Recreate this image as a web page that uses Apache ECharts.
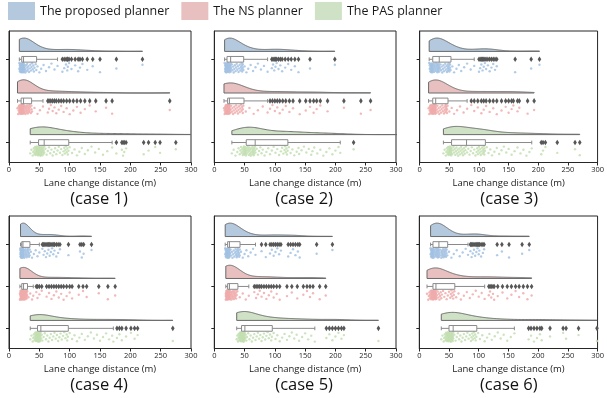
<!DOCTYPE html>
<html>
<head>
<meta charset="utf-8">
<script src="https://cdn.jsdelivr.net/npm/echarts@6/dist/echarts.min.js"></script>
<style>
  html, body { margin: 0; padding: 0; background: #fff; }
  #chart { width: 607px; height: 398px; }
</style>
</head>
<body>
<div id="chart"></div>
<script>
// Lane change distances (m) recorded for each planner in six test cases.
const planners = ['The proposed planner', 'The NS planner', 'The PAS planner'];
const caseTitles = ['(case 1)', '(case 2)', '(case 3)', '(case 4)', '(case 5)', '(case 6)'];
const distanceTicks = [0, 50, 100, 150, 200, 250, 300];
const axisTitle = 'Lane change distance (m)';

const case1Proposed = [17,17,18,18,18,18,19,19,19,19,19,19,20,20,20,20,20,20,20,21,21,21,21,21,21,
  21,21,22,22,22,22,22,22,22,23,23,23,23,23,23,23,23,24,24,24,24,24,24,24,24,
  24,25,25,26,26,27,27,28,29,30,30,31,32,33,34,35,36,37,38,39,40,41,42,44,45,
  47,50,53,57,61,66,70,75,80,88,91,94,96,97,99,103,109,114,117,121,129,138,150,177,220];
const case1NS = [14,15,16,16,17,17,17,18,18,18,18,18,19,19,19,19,19,19,19,20,20,20,20,20,20,
  20,20,21,21,21,21,21,22,22,22,22,22,22,23,23,23,23,23,23,23,24,24,24,24,24,
  24,25,25,26,26,27,27,28,28,29,29,30,30,31,31,32,32,33,33,34,34,35,36,37,37,
  38,42,47,51,56,64,66,69,72,75,78,82,86,90,95,100,106,112,118,125,133,143,160,170,265];
const case1PAS = [35,37,39,40,41,42,42,43,43,44,44,45,45,45,46,46,46,47,47,47,47,48,48,48,48,
  49,49,49,50,50,50,51,51,51,52,52,52,53,53,53,54,54,54,55,55,56,56,57,57,58,
  58,60,62,64,66,68,70,72,74,76,78,80,82,84,86,88,90,91,92,93,94,95,96,97,98,
  100,104,108,112,116,120,125,130,136,142,148,155,162,170,177,186,188,190,193,222,230,241,249,275,320];

const case2Proposed = [17,18,18,18,19,19,19,19,19,19,19,20,20,20,20,20,20,20,20,20,20,20,20,20,21,
  21,21,21,22,22,22,22,23,23,23,23,24,24,24,24,25,25,25,25,26,26,26,27,27,27,
  27,28,29,30,31,32,33,34,35,36,37,38,39,40,41,42,43,44,45,45,46,46,47,47,48,
  50,53,56,60,64,68,72,77,82,88,95,97,99,101,103,106,109,112,117,122,127,133,139,158,199];
const case2NS = [16,17,17,18,18,18,19,19,19,19,20,20,20,20,20,21,21,21,21,21,21,21,21,22,22,
  22,22,22,22,23,23,23,23,23,23,23,24,24,24,24,24,24,24,24,25,25,25,25,25,25,
  25,26,27,28,29,30,31,32,33,34,35,36,37,38,39,40,41,42,43,44,45,46,47,47,48,
  52,58,65,72,80,88,92,96,100,104,108,113,118,124,130,141,151,158,164,169,175,187,214,242,258];
const case2PAS = [29,32,35,38,40,42,43,44,45,46,47,47,48,48,49,49,50,50,50,51,51,51,52,52,52,
  53,53,54,55,55,56,57,57,58,59,59,60,61,61,62,63,63,64,64,65,65,66,66,67,67,
  68,70,72,74,76,78,80,83,86,89,92,95,98,101,104,107,110,112,114,116,117,118,119,120,121,
  123,126,129,132,136,139,140,144,148,152,156,160,162,165,170,175,180,185,190,195,200,205,208,230,325];

const case3Proposed = [16,17,17,18,18,18,19,19,19,19,20,20,20,20,20,20,21,21,21,21,21,21,22,22,22,
  22,23,23,24,24,25,25,26,26,27,27,28,28,29,29,30,30,30,31,31,31,32,32,33,33,
  33,34,35,36,37,38,39,40,41,42,43,44,45,46,47,47,48,48,49,49,50,50,51,51,52,
  55,58,62,66,70,75,80,86,92,100,102,104,106,108,110,112,115,118,121,124,127,130,161,188,202];
const case3NS = [15,16,17,17,18,18,18,19,19,19,19,20,20,20,20,20,21,21,21,21,21,21,22,22,22,
  22,22,23,23,23,23,24,24,24,24,24,25,25,25,25,25,25,26,26,26,26,26,26,27,27,
  27,28,29,30,31,32,33,34,35,36,37,38,39,40,41,42,43,43,44,44,45,45,46,46,47,
  50,54,58,63,68,74,80,87,92,98,104,108,112,118,124,130,138,145,150,155,158,165,168,182,193];
const case3PAS = [40,42,44,45,46,47,47,48,48,49,49,50,50,50,51,51,51,52,52,52,52,53,53,53,53,
  54,55,56,57,58,59,60,61,62,63,64,65,66,67,68,69,70,71,72,73,74,75,76,77,78,
  80,82,84,86,88,90,92,94,96,97,98,99,100,101,102,103,104,105,106,107,108,108,109,109,110,
  113,116,119,122,126,130,134,138,142,146,150,155,160,165,170,175,180,185,189,205,208,212,232,262,270];

const case4Proposed = [19,19,19,19,19,19,20,20,20,20,20,20,20,20,20,20,20,21,21,21,21,21,21,21,21,
  21,21,21,21,21,22,22,22,22,22,22,22,22,22,22,22,22,22,23,23,23,23,23,23,23,
  23,23,24,24,24,25,25,26,26,27,27,28,28,29,29,30,30,31,31,32,32,33,33,34,34,
  36,38,41,44,47,50,55,57,59,61,63,65,67,69,71,73,75,78,81,84,98,117,120,123,136];
const case4NS = [18,18,19,19,19,19,19,20,20,20,20,20,20,20,20,21,21,21,21,21,21,21,21,21,21,
  21,21,22,22,22,22,22,22,22,22,23,23,23,23,23,23,23,23,23,24,24,24,24,24,24,
  24,24,24,25,25,25,25,26,26,26,26,27,27,27,27,28,28,28,28,29,29,29,29,30,30,
  32,35,38,40,45,47,50,54,62,66,70,74,78,82,86,90,95,100,104,115,122,128,148,163,175];
const case4PAS = [35,37,39,40,41,42,42,43,43,44,44,44,45,45,45,45,46,46,46,46,46,47,47,47,47,
  47,47,47,48,48,48,48,48,49,49,49,49,49,50,50,50,50,50,51,51,51,51,52,52,52,
  53,54,55,57,59,61,63,65,67,69,71,73,75,77,79,81,83,85,87,89,91,93,95,96,97,
  100,104,108,112,116,120,125,130,135,140,145,150,155,160,165,170,172,178,182,186,193,201,207,212,270];

const case5Proposed = [18,18,19,19,19,19,20,20,20,20,20,20,21,21,21,21,21,21,21,21,22,22,22,22,22,
  22,22,22,22,23,23,23,23,23,23,23,24,24,24,24,24,24,24,25,25,25,25,25,25,25,
  25,26,27,28,29,30,31,32,33,34,35,36,36,37,37,38,38,39,39,40,40,41,41,42,42,
  44,47,50,53,56,60,64,68,78,85,92,95,98,101,104,107,110,122,126,130,134,138,141,169,195];
const case5NS = [19,19,19,20,20,20,20,20,20,21,21,21,21,21,21,21,21,22,22,22,22,22,22,22,22,
  22,22,22,23,23,23,23,23,23,23,24,24,24,24,24,24,24,24,25,25,25,25,25,25,25,
  25,26,26,27,27,28,28,29,29,30,30,31,31,32,32,33,33,34,34,35,35,36,36,37,38,
  42,47,52,57,66,69,72,75,78,82,86,90,94,98,103,108,120,128,137,147,153,158,163,174,184];
const case5PAS = [37,38,39,40,40,41,41,42,42,42,43,43,43,43,44,44,44,44,44,45,45,45,45,45,45,
  45,46,46,46,46,46,47,47,47,47,47,48,48,48,48,49,49,49,49,49,50,50,50,50,50,
  51,52,53,54,56,58,60,62,64,66,68,70,72,74,76,78,80,82,84,86,88,90,92,94,95,
  98,101,104,108,112,116,120,124,128,132,136,140,145,150,155,160,166,185,190,195,200,205,210,214,271];

const case6Proposed = [19,19,20,20,20,20,21,21,21,21,21,21,22,22,22,22,22,22,22,23,23,23,23,23,23,
  23,24,24,25,25,26,26,27,27,28,28,29,29,29,30,30,30,31,31,31,32,32,32,33,33,
  33,34,35,36,37,37,38,38,39,39,40,40,41,41,42,42,43,43,44,44,45,45,46,46,47,
  50,54,58,63,68,73,78,82,86,88,90,92,94,96,98,100,101,104,107,109,131,139,151,173,185];
const case6NS = [13,15,16,17,18,18,19,19,20,20,20,21,21,21,21,22,22,22,22,22,23,23,23,23,23,
  23,23,24,24,24,24,25,25,25,25,25,26,26,26,26,26,27,27,27,27,27,28,28,28,28,
  28,29,30,31,32,33,34,35,36,37,38,40,42,44,46,48,50,52,53,54,55,56,57,58,59,
  62,66,70,75,80,85,90,95,100,105,110,117,119,121,124,126,132,140,148,155,162,168,175,182,189];
const case6PAS = [37,39,41,42,43,44,44,45,45,46,46,46,47,47,47,48,48,48,48,49,49,49,49,49,50,
  50,50,51,51,51,52,52,52,53,53,53,53,54,54,54,55,55,55,55,56,56,56,56,57,57,
  57,59,61,63,65,67,69,71,73,75,77,79,81,83,85,87,88,89,90,91,92,93,94,95,96,
  99,102,106,110,114,118,122,127,132,137,142,148,154,160,184,188,193,198,203,206,220,242,247,268,299];

const cases = [
  [case1Proposed, case1NS, case1PAS],
  [case2Proposed, case2NS, case2PAS],
  [case3Proposed, case3NS, case3PAS],
  [case4Proposed, case4NS, case4PAS],
  [case5Proposed, case5NS, case5PAS],
  [case6Proposed, case6NS, case6PAS]
];

// ---- styling and layout ----
const FONT = "'Open Sans', 'Noto Sans', sans-serif";
const INK = '#262626';
const cloudFill = ['#b4c9de', '#e8c0c0', '#cfe2c6'];
const rainColor = ['#a3c2e3', '#f0abab', '#c3dfb2'];
const boxLine = '#8a8a8a';
const flierColor = '#575757';

const panels = [
  { left: 9,     top: 31,  width: 182,   height: 131.5 },
  { left: 214.3, top: 31,  width: 181.7, height: 131.5 },
  { left: 419.7, top: 31,  width: 181,   height: 131.5 },
  { left: 9,     top: 216, width: 182,   height: 132.5 },
  { left: 214.3, top: 216, width: 181.7, height: 132.5 },
  { left: 419.3, top: 216, width: 181,   height: 132.5 }
];
const titleOffset = 37;

// vertical geometry, in category units (one unit = distance between planners)
const CLOUD_BASE = 0.19;
const CLOUD_HEIGHT = 0.32;
const BOX_HALF = 0.068;
const CAP_HALF = 0.045;
const RAIN_TOP = 0.09;
const RAIN_SPAN = 0.23;
const BW_FACTOR = 0.4;

function quantile(sorted, p) {
  const pos = (sorted.length - 1) * p;
  const lo = Math.floor(pos), hi = Math.ceil(pos);
  return sorted[lo] + (sorted[hi] - sorted[lo]) * (pos - lo);
}

function boxStats(values) {
  const s = values.slice().sort((a, b) => a - b);
  const q1 = quantile(s, 0.25), med = quantile(s, 0.5), q3 = quantile(s, 0.75);
  const iqr = q3 - q1;
  const lowFence = q1 - 1.5 * iqr, highFence = q3 + 1.5 * iqr;
  const inside = s.filter(v => v >= lowFence && v <= highFence);
  return {
    lo: inside[0], q1, med, q3, hi: inside[inside.length - 1],
    outliers: s.filter(v => v < lowFence || v > highFence)
  };
}

// Gaussian kernel density, cut at the data range
function density(values) {
  const n = values.length;
  const mean = values.reduce((a, b) => a + b, 0) / n;
  const sd = Math.sqrt(values.reduce((a, v) => a + (v - mean) * (v - mean), 0) / (n - 1));
  const bw = BW_FACTOR * sd;
  const min = Math.min(...values), max = Math.max(...values);
  const steps = 200;
  const pts = [];
  for (let i = 0; i <= steps; i++) {
    const x = min + (max - min) * i / steps;
    let d = 0;
    for (const v of values) {
      const z = (x - v) / bw;
      d += Math.exp(-0.5 * z * z);
    }
    pts.push([x, d / (n * bw * Math.sqrt(2 * Math.PI))]);
  }
  return pts;
}

const grid = panels.map(p => ({
  left: p.left, top: p.top, width: p.width, height: p.height,
  show: true, borderColor: INK, borderWidth: 1, backgroundColor: 'transparent'
}));

const xAxis = panels.map((p, i) => ({
  gridIndex: i, type: 'value', min: 0, max: 300, interval: 50,
  axisLine: { show: true, onZero: false, lineStyle: { color: INK, width: 1 } },
  axisTick: { show: true, length: 3, inside: false, customValues: distanceTicks, lineStyle: { color: INK } },
  axisLabel: { show: true, customValues: distanceTicks, fontSize: 7.5, color: INK, margin: 3, fontFamily: FONT },
  splitLine: { show: false },
  name: axisTitle, nameLocation: 'middle', nameGap: 16, nameMoveOverlap: false,
  nameTextStyle: { fontSize: 9.5, color: '#1a1a1a', fontFamily: FONT }
}));

const yAxis = panels.map((p, i) => ({
  gridIndex: i, type: 'value', inverse: true, min: -0.68, max: 2.48,
  axisLine: { show: true, onZero: false, lineStyle: { color: INK, width: 1 } },
  axisTick: { show: true, length: 3, inside: false, customValues: [0, 1, 2], lineStyle: { color: INK } },
  axisLabel: { show: false },
  splitLine: { show: false }
}));

const series = [];
cases.forEach((groups, ci) => {
  const clouds = groups.map(density);
  const peak = Math.max(...clouds.map(c => Math.max(...c.map(pt => pt[1]))));

  groups.forEach((values, p) => {
    const cloud = clouds[p];
    const st = boxStats(values);

    // half-violin "cloud" above each planner
    series.push({
      type: 'custom', name: planners[p], xAxisIndex: ci, yAxisIndex: ci,
      clip: true, silent: true, z: 2,
      itemStyle: { color: cloudFill[p] },
      encode: { x: 0, y: 1 },
      data: [[cloud[0][0], p]],
      renderItem: (params, api) => {
        const base = p - CLOUD_BASE;
        const pts = cloud.map(([x, d]) => api.coord([x, base - CLOUD_HEIGHT * d / peak]));
        pts.push(api.coord([cloud[cloud.length - 1][0], base]));
        pts.push(api.coord([cloud[0][0], base]));
        return {
          type: 'polygon', shape: { points: pts },
          style: { fill: cloudFill[p], stroke: '#6a6a6a', lineWidth: 1 }
        };
      }
    });

    // box and whiskers
    series.push({
      type: 'custom', xAxisIndex: ci, yAxisIndex: ci, clip: true, silent: true, z: 3,
      encode: { x: [0, 1, 2, 3, 4], y: 5 },
      data: [[st.lo, st.q1, st.med, st.q3, st.hi, p]],
      renderItem: (params, api) => {
        const c = api.value(5);
        const xs = [0, 1, 2, 3, 4].map(k => api.coord([api.value(k), c])[0]);
        const yc = api.coord([0, c])[1];
        const hb = Math.abs(api.size([0, BOX_HALF])[1]);
        const hc = Math.abs(api.size([0, CAP_HALF])[1]);
        const ls = { stroke: boxLine, lineWidth: 1, fill: null };
        return {
          type: 'group', children: [
            { type: 'line', shape: { x1: xs[0], y1: yc, x2: xs[1], y2: yc }, style: ls },
            { type: 'line', shape: { x1: xs[3], y1: yc, x2: xs[4], y2: yc }, style: ls },
            { type: 'line', shape: { x1: xs[0], y1: yc - hc, x2: xs[0], y2: yc + hc }, style: ls },
            { type: 'line', shape: { x1: xs[4], y1: yc - hc, x2: xs[4], y2: yc + hc }, style: ls },
            { type: 'rect', shape: { x: xs[1], y: yc - hb, width: xs[3] - xs[1], height: 2 * hb },
              style: { fill: '#ffffff', stroke: boxLine, lineWidth: 1 } },
            { type: 'line', shape: { x1: xs[2], y1: yc - hb, x2: xs[2], y2: yc + hb }, style: ls }
          ]
        };
      }
    });

    // jittered raw observations ("rain") below the box
    series.push({
      type: 'scatter', xAxisIndex: ci, yAxisIndex: ci, silent: true, z: 2,
      symbol: 'circle', symbolSize: 2.4,
      itemStyle: { color: rainColor[p], opacity: 0.85 },
      data: values.map((v, i) => [v, p + RAIN_TOP + RAIN_SPAN * ((i * 0.6180339887 + p * 0.37) % 1)])
    });

    // outliers
    series.push({
      type: 'scatter', xAxisIndex: ci, yAxisIndex: ci, silent: true, z: 4,
      symbol: 'diamond', symbolSize: [3.6, 5.6],
      itemStyle: { color: flierColor, opacity: 1 },
      data: st.outliers.map(v => [v, p])
    });
  });
});

const graphic = panels.map((p, i) => ({
  type: 'text',
  x: p.left + p.width / 2 - 1,
  y: p.top + p.height + titleOffset,
  style: {
    text: caseTitles[i], fontSize: 16.5, fontFamily: FONT, fill: '#111111',
    align: 'center', verticalAlign: 'middle', textAlign: 'center', textVerticalAlign: 'middle'
  }
}));

const chart = echarts.init(document.getElementById('chart'), null, { renderer: 'canvas' });
chart.setOption({
  animation: false,
  backgroundColor: '#ffffff',
  textStyle: { fontFamily: FONT },
  legend: {
    data: planners, left: 8, top: 2, padding: 0, icon: 'rect',
    itemWidth: 27, itemHeight: 18, itemGap: 12, selectedMode: false,
    itemStyle: { borderWidth: 0 },
    textStyle: { fontSize: 12.5, color: '#1a1a1a', fontFamily: FONT }
  },
  grid, xAxis, yAxis, series, graphic
});
</script>
</body>
</html>
